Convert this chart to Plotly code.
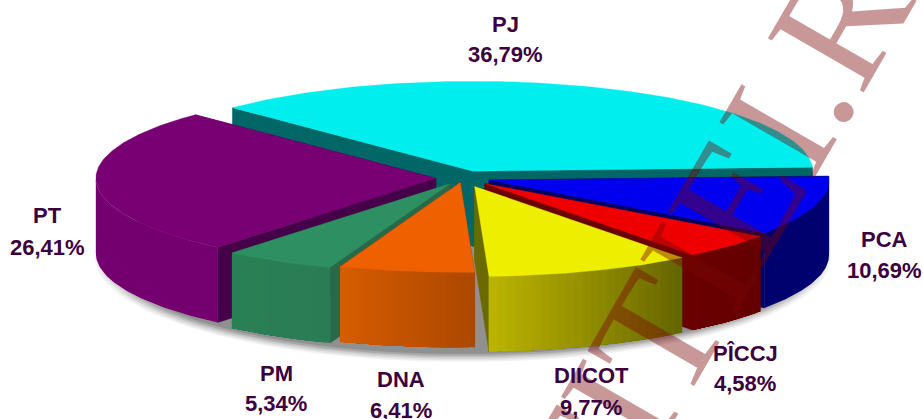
import math
import plotly.graph_objects as go

# ---- data ----
categories = ["PJ", "PCA", "PÎCCJ", "DIICOT", "DNA", "PM", "PT"]
shares = [36.79, 10.69, 4.58, 9.77, 6.41, 5.34, 26.41]
share_labels = ["36,79%", "10,69%", "4,58%", "9,77%", "6,41%", "5,34%", "26,41%"]

# ---- pie projection ----
CX, CY = 463, 178
RX, RY = 340, 90
DEPTH = 75
START = 315
explode = [0.08, 0.08, 0.09, 0.10, 0.05, 0.075, 0.08]
draw_order = ["PJ", "PT", "PCA", "PÎCCJ", "PM", "DNA", "DIICOT"]

top_color = dict(zip(categories, ["#00EEEE", "#0000EE", "#EE0000", "#EEEE00", "#EE6000", "#2E8F62", "#780072"]))
face_color = dict(zip(categories, ["#006666", "#000060", "#6A0000", "#6A6A00", "#8A4000", "#28694A", "#46004A"]))
wall_stops = dict(zip(categories, [
    ("#006666", "#006666"), ("#00006E", "#00006E"), ("#6A0000", "#640000"),
    ("#BCB400", "#646400"), ("#D65C00", "#AC4800"), ("#2A8055", "#2A7C55"), ("#740070", "#740070"),
]))
# centre of the name line and of the share line of each label
label_x = dict(zip(categories, [505, 884, 745, 591, 401, 276, 47]))
label_y = dict(zip(categories, [(24, 54), (239, 270), (353, 383), (375, 407), (379, 410), (373, 403), (215, 247)]))


def hex_rgb(h):
    return tuple(int(h[i:i + 2], 16) for i in (1, 3, 5))


def mix(a, b, t):
    ca, cb = hex_rgb(a), hex_rgb(b)
    return "#%02X%02X%02X" % tuple(round(ca[i] + (cb[i] - ca[i]) * t) for i in range(3))


def pt(ax, ay, deg):
    r = math.radians(deg)
    return ax + RX * math.sin(r), ay - RY * math.cos(r)


def arc(ax, ay, d0, d1, n=60):
    return [pt(ax, ay, d0 + (d1 - d0) * i / n) for i in range(n + 1)]


fig = go.Figure()


def poly(points, color, seam=0.0):
    xs = [p[0] for p in points] + [points[0][0]]
    ys = [p[1] for p in points] + [points[0][1]]
    fig.add_trace(go.Scatter(
        x=xs, y=ys, mode="lines", fill="toself", fillcolor=color,
        line=dict(color=color if seam else "rgba(0,0,0,0)", width=seam),
        hoverinfo="skip", showlegend=False,
    ))


# soft shadow under the pie
for grow, alpha in [(14, 0.05), (11, 0.06), (8, 0.07), (5, 0.09), (2, 0.12), (-2, 0.14)]:
    ell = [(CX + (RX + 14 + grow) * math.sin(math.radians(d)),
            CY + DEPTH + 4 + (RY + 8 + grow * 0.5) * -math.cos(math.radians(d))) for d in range(0, 361, 3)]
    poly(ell, f"rgba(0,0,0,{alpha})")

# angular extent and displaced apex of each slice
geom = {}
acc = START
for name, v, ex in zip(categories, shares, explode):
    d0, d1 = acc, acc + v * 3.6
    mid = math.radians((d0 + d1) / 2)
    geom[name] = (d0, d1, CX + ex * RX * math.sin(mid), CY - ex * RY * math.cos(mid))
    acc = d1

for name in draw_order:
    d0, d1, ax, ay = geom[name]
    # radial cut faces
    for d in (d0, d1):
        x, y = pt(ax, ay, d)
        poly([(ax, ay), (x, y), (x, y + DEPTH), (ax, ay + DEPTH)], face_color[name], 0.5)
    # outer wall, only the part that faces the viewer
    front = [(lo, hi) for lo, hi in [(max(d0, 90), min(d1, 270)), (max(d0 - 360, 90), min(d1 - 360, 270))] if hi > lo]
    for lo, hi in front:
        steps = 1 if wall_stops[name][0] == wall_stops[name][1] else 24
        for i in range(steps):
            # each band runs to the wall's end and is overdrawn by the next: no seams
            a = lo + (hi - lo) * i / steps
            c = mix(*wall_stops[name], 1 - (i + 0.5) / steps)
            pa = arc(ax, ay, a, hi, 60)
            poly(pa + [(x, y + DEPTH) for x, y in reversed(pa)], c)
    # top
    poly([(ax, ay)] + arc(ax, ay, d0, d1, 120), top_color[name], 0.3)

annotations = [dict(
    text="JUSTITIEI.RO", x=670, y=314, xref="x", yref="y", xanchor="center", yanchor="middle",
    textangle=-60, showarrow=False,
    font=dict(family="Liberation Serif", size=168, color="rgba(122,5,5,0.41)"),
)]
for name, lab in zip(categories, share_labels):
    for line, y in zip((name, lab), label_y[name]):
        annotations.append(dict(
            text=f"<b>{line}</b>", x=label_x[name], y=y, xref="x", yref="y", xanchor="center", yanchor="middle",
            showarrow=False, align="center",
            font=dict(family="Liberation Sans", size=22, color="#3C0040"),
        ))

fig.update_layout(
    width=923, height=419, margin=dict(l=0, r=0, t=0, b=0),
    paper_bgcolor="white", plot_bgcolor="white", showlegend=False,
    xaxis=dict(range=[0, 923], visible=False, fixedrange=True),
    yaxis=dict(range=[419, 0], visible=False, fixedrange=True),
    annotations=annotations,
)
fig.write_html("out.html", config={"displayModeBar": False},
               post_script="document.body.style.margin='0';document.body.style.overflow='hidden';")
